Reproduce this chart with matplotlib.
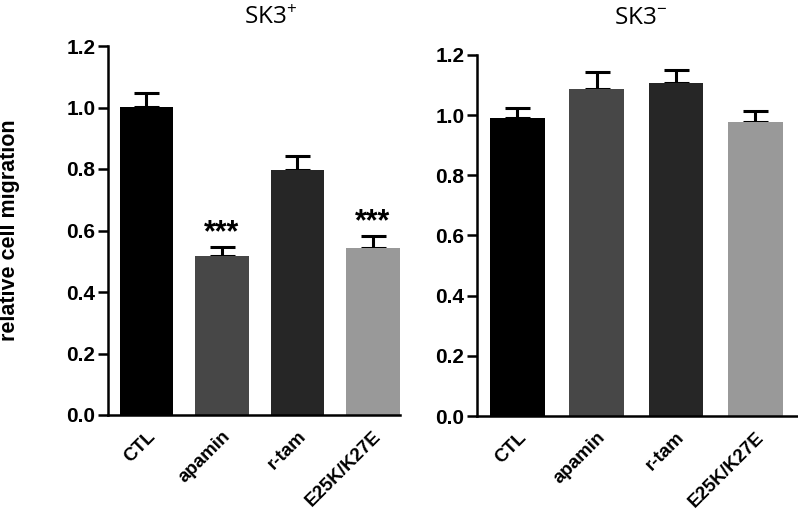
import matplotlib
matplotlib.use("Agg")
import matplotlib.pyplot as plt
import numpy as np

categories = ["CTL", "apamin", "r-tam", "E25K/K27E"]
sk3pos_vals = [1.003, 0.517, 0.797, 0.543]
sk3pos_err = [0.045, 0.030, 0.044, 0.039]
sk3neg_vals = [0.990, 1.088, 1.108, 0.977]
sk3neg_err = [0.034, 0.056, 0.041, 0.036]
sig_pos = ["", "***", "", "***"]
colors = ["#000000", "#474747", "#262626", "#999999"]
yticks = [0.0, 0.2, 0.4, 0.6, 0.8, 1.0, 1.2]

plt.rcParams['font.family'] = ['Liberation Sans', 'DejaVu Sans']
plt.rcParams['mathtext.fontset'] = 'custom'
plt.rcParams['mathtext.rm'] = 'Open Sans'
plt.rcParams['mathtext.it'] = 'Open Sans'
plt.rcParams['mathtext.bf'] = 'Open Sans'

fig = plt.figure(figsize=(7.98, 5.12), dpi=100)
ax1 = fig.add_axes([108/798, 1-415/512, 292/798, 369/512])
ax2 = fig.add_axes([477/798, 1-416/512, 321/798, 361/512])

def draw(ax, vals, errs, width, xlim, title, title_x, sig=None):
    x = np.arange(len(categories))
    ax.bar(x, vals, width=width, color=colors, zorder=2)
    ax.errorbar(x, vals, yerr=[np.zeros(len(errs)), errs], fmt='none',
                ecolor='black', elinewidth=2.2, capsize=9, capthick=2.2, zorder=1)
    ax.set_ylim(0, 1.2)
    ax.set_xlim(*xlim)
    ax.set_yticks(yticks)
    ax.set_yticklabels([f"{t:.1f}" for t in yticks], fontsize=15, fontweight='bold')
    ax.set_xticks(x)
    ax.set_xticklabels(categories, rotation=45, ha='right', rotation_mode='anchor',
                       fontsize=13.5, fontweight='bold')
    ax.tick_params(axis='x', length=0, pad=9)
    ax.tick_params(axis='y', length=7, width=1.8, direction='out', pad=2)
    for s in ['top', 'right']:
        ax.spines[s].set_visible(False)
    for s in ['left', 'bottom']:
        ax.spines[s].set_linewidth(1.8)
    fig.text(title_x, 1 - 24/512, title, fontsize=17.5, ha='center', va='baseline',
             family=['Open Sans', 'DejaVu Sans'])
    if sig:
        for xi, v, e, s in zip(x, vals, errs, sig):
            if s:
                ax.text(xi, v + e - 0.005, s, ha='center', va='bottom',
                        fontsize=22, fontweight='bold')

draw(ax1, sk3pos_vals, sk3pos_err, 0.71, (-0.51, 3.36), r"SK3$^{\mathrm{+}}$", 271/798, sig_pos)
draw(ax2, sk3neg_vals, sk3neg_err, 0.69, (-0.51, 3.54), r"SK3$^{\mathrm{-}}$", 641/798)
ax1.set_ylabel("relative cell migration", fontsize=15.5, fontweight='bold')
ax1.yaxis.set_label_coords(-0.30, 0.5)

fig.savefig("out.png", dpi=100)
